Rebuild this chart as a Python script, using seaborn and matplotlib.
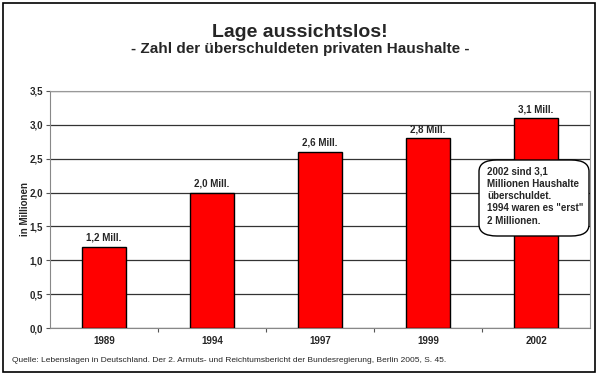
import seaborn as sns
import matplotlib.pyplot as plt
import pandas as pd
from matplotlib.patches import FancyBboxPatch, Rectangle
from matplotlib.ticker import MultipleLocator, FuncFormatter

# --- Data ---
years = ["1989", "1994", "1997", "1999", "2002"]
households = [1.2, 2.0, 2.6, 2.8, 3.1]  # Millionen
bar_labels = ["1,2 Mill.", "2,0 Mill.", "2,6 Mill.", "2,8 Mill.", "3,1 Mill."]

df = pd.DataFrame({"jahr": years, "wert": households})

sns.set_style("white")
plt.rcParams["font.family"] = ["Liberation Sans", "DejaVu Sans"]

fig = plt.figure(figsize=(6, 3.81), dpi=100)
W, H = 600, 381
ax = fig.add_axes([50 / W, 1 - 328 / H, 540 / W, (328 - 91) / H])

sns.barplot(data=df, x="jahr", y="wert", color="#ff0000", saturation=1,
            edgecolor="black", linewidth=1.0, width=0.41, ax=ax, zorder=3)

ax.set_ylim(0, 3.5)
ax.set_xlim(-0.5, len(years) - 0.5)
ax.yaxis.set_major_locator(MultipleLocator(0.5))
ax.yaxis.set_major_formatter(FuncFormatter(lambda v, _: f"{v:.1f}".replace(".", ",")))
ax.grid(axis="y", color="#333333", linewidth=0.9, zorder=0)
ax.set_axisbelow(True)

for side in ["top", "right"]:
    ax.spines[side].set_color("#999999")
    ax.spines[side].set_linewidth(0.8)
for side in ["left", "bottom"]:
    ax.spines[side].set_color("#888888")
    ax.spines[side].set_linewidth(0.8)

ax.tick_params(axis="y", direction="out", length=3, width=0.8, color="#555555",
               labelsize=7, left=True, pad=2)
ax.tick_params(axis="x", which="major", bottom=False, length=0, labelsize=7, pad=6)
for lab in ax.get_xticklabels() + ax.get_yticklabels():
    lab.set_fontweight("bold")
# tick marks between categories on x axis
ax.set_xticks([0.5, 1.5, 2.5, 3.5], minor=True)
ax.tick_params(axis="x", which="minor", bottom=True, direction="out", length=3,
               width=0.8, color="#555555")

ax.set_xlabel("")
ax.set_ylabel("in Millionen", fontsize=7, fontweight="bold", labelpad=0)

for i, (v, t) in enumerate(zip(households, bar_labels)):
    ax.text(i, v + 0.06, t, ha="center", va="bottom", fontsize=7, fontweight="bold")

# Titles
fig.text(0.5, 1 - 37 / H, "Lage aussichtslos!", ha="center", va="baseline",
         fontsize=14, fontweight="bold")
fig.text(0.5, 1 - 53 / H, "- Zahl der überschuldeten privaten Haushalte -",
         ha="center", va="baseline", fontsize=11, fontweight="bold")

# Source
fig.text(12 / W, 1 - 360 / H,
         "Quelle: Lebenslagen in Deutschland. Der 2. Armuts- und Reichtumsbericht der Bundesregierung, Berlin 2005, S. 45.",
         ha="left", va="center", fontsize=6.0)

# Annotation box
box = FancyBboxPatch((479 / W, 1 - 236 / H), 110 / W, 76 / H,
                     boxstyle="round,pad=0,rounding_size=0.03",
                     transform=fig.transFigure, facecolor="white",
                     edgecolor="black", linewidth=1.0, zorder=5)
fig.patches.append(box)
fig.text(487 / W, 1 - 167 / H,
         "2002 sind 3,1\nMillionen Haushalte\nüberschuldet.\n1994 waren es \"erst\"\n2 Millionen.",
         ha="left", va="top", fontsize=7, fontweight="bold", linespacing=1.27,
         zorder=6)

# Outer frame
frame = Rectangle((3 / W, 1 - 372 / H), 592 / W, 369 / H, transform=fig.transFigure,
                  fill=False, edgecolor="black", linewidth=1.2)
fig.patches.append(frame)

fig.savefig("out.png", dpi=100)
